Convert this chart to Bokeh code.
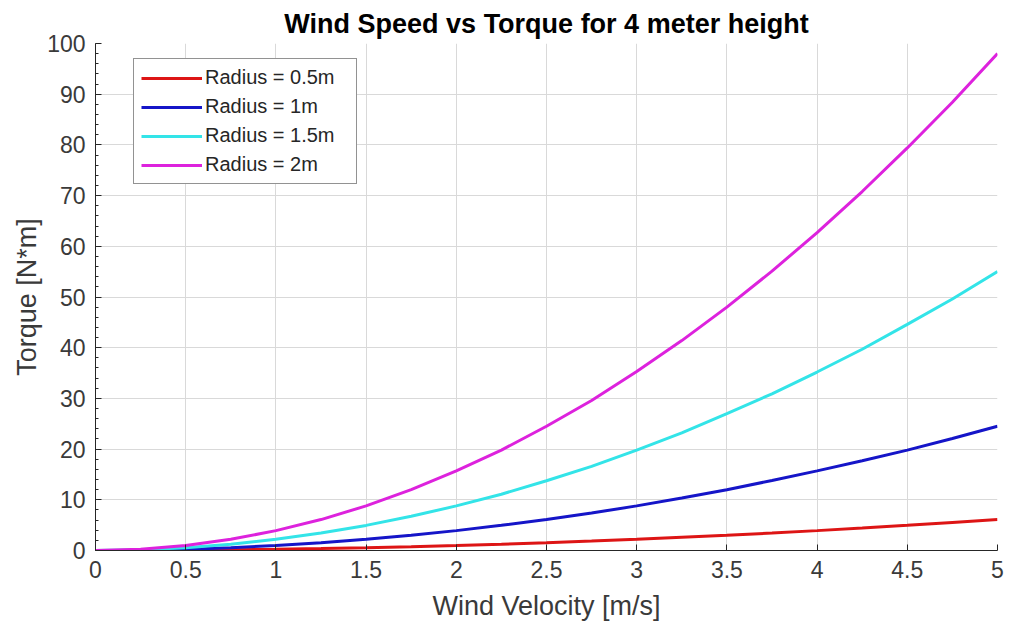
from bokeh.plotting import figure
from bokeh.embed import file_html
from bokeh.resources import INLINE
from bokeh.models import Legend, LegendItem, FixedTicker, Range1d

# Data
wind_velocity = [0, 0.25, 0.5, 0.75, 1, 1.25, 1.5, 1.75, 2, 2.25, 2.5,
                 2.75, 3, 3.25, 3.5, 3.75, 4, 4.25, 4.5, 4.75, 5]
torque_r05 = [0, 0.015, 0.06, 0.14, 0.25, 0.38, 0.55, 0.75, 0.98, 1.24, 1.53,
              1.85, 2.2, 2.59, 3.0, 3.44, 3.92, 4.43, 4.96, 5.53, 6.1]
torque_r1 = [0, 0.06, 0.25, 0.55, 0.98, 1.53, 2.2, 3.0, 3.92, 4.96, 6.1,
             7.4, 8.8, 10.35, 12.0, 13.8, 15.7, 17.7, 19.8, 22.1, 24.5]
torque_r15 = [0, 0.14, 0.55, 1.24, 2.2, 3.44, 4.95, 6.74, 8.8, 11.1, 13.75,
              16.6, 19.8, 23.2, 27.0, 30.9, 35.2, 39.7, 44.6, 49.6, 55.0]
torque_r2 = [0, 0.25, 0.98, 2.2, 3.92, 6.1, 8.8, 12.0, 15.7, 19.8, 24.5,
             29.6, 35.3, 41.4, 48.0, 55.1, 62.7, 70.8, 79.4, 88.4, 98.0]
series_names = ["Radius = 0.5m", "Radius = 1m", "Radius = 1.5m", "Radius = 2m"]
x_ticks = [0, 0.5, 1, 1.5, 2, 2.5, 3, 3.5, 4, 4.5, 5]
y_ticks = [0, 10, 20, 30, 40, 50, 60, 70, 80, 90, 100]

colors = ["#dd1515", "#1515c8", "#33e4e8", "#dd22dd"]
FONT = "Liberation Sans"
TXT = "#3a3a3a"

p = figure(width=1011, height=632, output_backend="svg", toolbar_location=None,
           x_range=Range1d(0, 5), y_range=Range1d(0, 100),
           title="Wind Speed vs Torque for 4 meter height",
           min_border_left=95, min_border_right=14, min_border_top=43, min_border_bottom=82)
p.background_fill_color = "white"
p.border_fill_color = "white"
p.outline_line_color = None

p.title.align = "center"
p.title.text_font = FONT
p.title.text_font_size = "27px"
p.title.text_font_style = "bold"
p.title.text_color = "black"
p.title.standoff = 10

renderers = []
for ys, c in zip([torque_r05, torque_r1, torque_r15, torque_r2], colors):
    r = p.line(wind_velocity, ys, line_color=c, line_width=3)
    renderers.append(r)

for ax in (p.xaxis[0], p.yaxis[0]):
    ax.axis_line_color = "#262626"
    ax.major_tick_line_color = "#262626"
    ax.minor_tick_line_color = "#262626"
    ax.major_tick_in = 6
    ax.major_tick_out = 0
    ax.minor_tick_in = 3
    ax.minor_tick_out = 0
    ax.major_label_text_font = FONT
    ax.major_label_text_font_size = "23px"
    ax.major_label_text_color = TXT
    ax.axis_label_text_font = FONT
    ax.axis_label_text_font_size = "27px"
    ax.axis_label_text_font_style = "normal"
    ax.axis_label_text_color = TXT

p.xaxis[0].ticker = FixedTicker(ticks=x_ticks)
p.yaxis[0].ticker = FixedTicker(ticks=y_ticks, minor_ticks=list(range(0, 101, 2)))
p.xaxis[0].major_label_standoff = 10
p.yaxis[0].major_label_standoff = 10
p.xaxis[0].axis_label_standoff = 10
p.yaxis[0].axis_label_standoff = 2
p.xaxis[0].axis_label = "Wind Velocity [m/s]"
p.yaxis[0].axis_label = "Torque [N*m]"

p.xgrid.grid_line_color = "#d9d9d9"
p.ygrid.grid_line_color = "#d9d9d9"
p.xgrid.ticker = FixedTicker(ticks=x_ticks)
p.ygrid.ticker = FixedTicker(ticks=y_ticks)

legend = Legend(items=[LegendItem(label=n, renderers=[r]) for n, r in zip(series_names, renderers)],
                location=(38, 366))
legend.border_line_color = "#262626"
legend.border_line_width = 1
legend.background_fill_color = "white"
legend.background_fill_alpha = 1
legend.label_text_font = FONT
legend.label_text_font_size = "20px"
legend.label_text_color = "#262626"
legend.glyph_width = 61
legend.glyph_height = 20
legend.label_height = 20
legend.label_width = 144
legend.spacing = 6
legend.padding = 7
legend.margin = 0
legend.label_standoff = 3
p.add_layout(legend, "center")

open("out.html", "w").write(file_html(p, INLINE))
